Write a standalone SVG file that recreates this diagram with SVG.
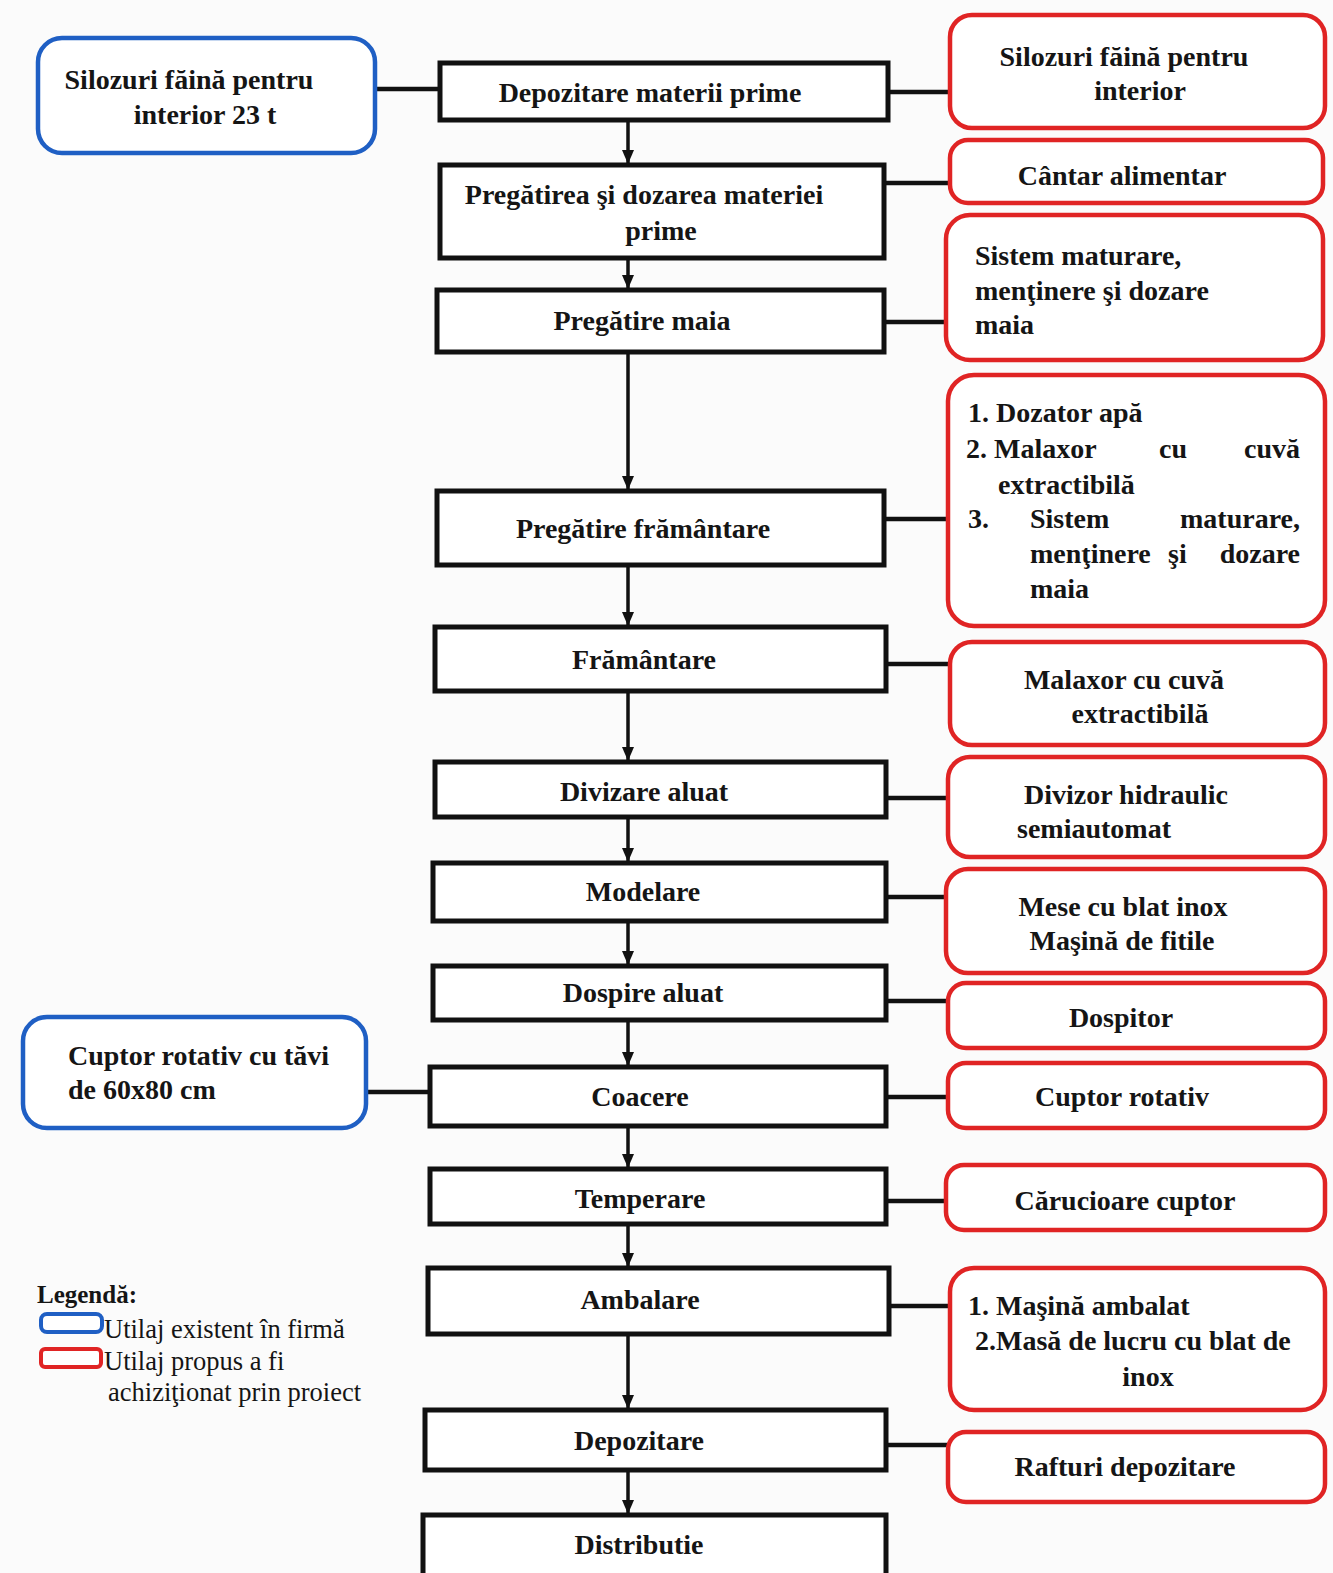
<svg xmlns="http://www.w3.org/2000/svg" width="1333" height="1573" viewBox="0 0 1333 1573">
<defs>
<marker id="ah" viewBox="0 0 14 12" refX="13" refY="6" markerWidth="14" markerHeight="12" orient="auto" markerUnits="userSpaceOnUse">
<path d="M0,0 L14,6 L0,12 Z" fill="#111"/>
</marker>
<style>
.step{fill:#fff;stroke:#111;stroke-width:5}
.red{fill:#fff;stroke:#e02424;stroke-width:4.5}
.blue{fill:#fff;stroke:#1f5fc4;stroke-width:4.5}
.t{font-family:"Liberation Serif","Times New Roman",serif;font-weight:bold;font-size:28px;fill:#151515}
.c{text-anchor:middle}
.e{text-anchor:end}
.lg{font-family:"Liberation Serif","Times New Roman",serif;font-size:26.5px;fill:#151515}
.link{stroke:#111;stroke-width:4.5;fill:none}
.arr{stroke:#111;stroke-width:3.5;fill:none;marker-end:url(#ah)}
</style>
</defs>
<rect width="1333" height="1573" fill="#fbfbfb"/>

<g id="connectors">
<line class="arr" x1="628" y1="120" x2="628" y2="163"/>
<line class="arr" x1="628" y1="258" x2="628" y2="288"/>
<line class="arr" x1="628" y1="352" x2="628" y2="489"/>
<line class="arr" x1="628" y1="565" x2="628" y2="625"/>
<line class="arr" x1="628" y1="691" x2="628" y2="760"/>
<line class="arr" x1="628" y1="817" x2="628" y2="861"/>
<line class="arr" x1="628" y1="921" x2="628" y2="964"/>
<line class="arr" x1="628" y1="1020" x2="628" y2="1065"/>
<line class="arr" x1="628" y1="1126" x2="628" y2="1167"/>
<line class="arr" x1="628" y1="1224" x2="628" y2="1266"/>
<line class="arr" x1="628" y1="1334" x2="628" y2="1408"/>
<line class="arr" x1="628" y1="1470" x2="628" y2="1513"/>
<line class="link" x1="375" y1="89" x2="440" y2="89"/>
<line class="link" x1="366" y1="1092" x2="430" y2="1092"/>
<line class="link" x1="888" y1="92" x2="950" y2="92"/>
<line class="link" x1="884" y1="183" x2="950" y2="183"/>
<line class="link" x1="884" y1="322" x2="946" y2="322"/>
<line class="link" x1="884" y1="519" x2="948" y2="519"/>
<line class="link" x1="886" y1="664" x2="950" y2="664"/>
<line class="link" x1="886" y1="798" x2="948" y2="798"/>
<line class="link" x1="886" y1="897" x2="946" y2="897"/>
<line class="link" x1="886" y1="1001" x2="948" y2="1001"/>
<line class="link" x1="886" y1="1097" x2="948" y2="1097"/>
<line class="link" x1="886" y1="1201" x2="946" y2="1201"/>
<line class="link" x1="889" y1="1306" x2="950" y2="1306"/>
<line class="link" x1="886" y1="1445" x2="948" y2="1445"/>
</g>

<g id="step1"><rect class="step" x="440" y="63" width="448" height="57"/><text class="t c" x="650" y="102">Depozitare materii prime</text></g>
<g id="step2"><rect class="step" x="440" y="165" width="444" height="93"/><text class="t c" x="644" y="204">Pregătirea şi dozarea materiei</text><text class="t c" x="661" y="240">prime</text></g>
<g id="step3"><rect class="step" x="437" y="290" width="447" height="62"/><text class="t c" x="642" y="330">Pregătire maia</text></g>
<g id="step4"><rect class="step" x="437" y="491" width="447" height="74"/><text class="t c" x="643" y="538">Pregătire frământare</text></g>
<g id="step5"><rect class="step" x="435" y="627" width="451" height="64"/><text class="t c" x="644" y="669">Frământare</text></g>
<g id="step6"><rect class="step" x="435" y="762" width="451" height="55"/><text class="t c" x="644" y="801">Divizare aluat</text></g>
<g id="step7"><rect class="step" x="433" y="863" width="453" height="58"/><text class="t c" x="643" y="901">Modelare</text></g>
<g id="step8"><rect class="step" x="433" y="966" width="453" height="54"/><text class="t c" x="643" y="1002">Dospire aluat</text></g>
<g id="step9"><rect class="step" x="430" y="1067" width="456" height="59"/><text class="t c" x="640" y="1106">Coacere</text></g>
<g id="step10"><rect class="step" x="430" y="1169" width="456" height="55"/><text class="t c" x="640" y="1208">Temperare</text></g>
<g id="step11"><rect class="step" x="428" y="1268" width="461" height="66"/><text class="t c" x="640" y="1309">Ambalare</text></g>
<g id="step12"><rect class="step" x="425" y="1410" width="461" height="60"/><text class="t c" x="639" y="1450">Depozitare</text></g>
<g id="step13"><rect class="step" x="423" y="1515" width="463" height="70"/><text class="t c" x="639" y="1554">Distributie</text></g>

<g id="eq1"><rect class="red" x="950" y="15" width="375" height="113" rx="22"/><text class="t c" x="1124" y="66">Silozuri făină pentru</text><text class="t c" x="1140" y="100">interior</text></g>
<g id="eq2"><rect class="red" x="950" y="140" width="373" height="63" rx="18"/><text class="t c" x="1122" y="185">Cântar alimentar</text></g>
<g id="eq3"><rect class="red" x="946" y="215" width="377" height="145" rx="24"/><text class="t" x="975" y="265">Sistem maturare,</text><text class="t" x="975" y="300">menţinere şi dozare</text><text class="t" x="975" y="334">maia</text></g>
<g id="eq4"><rect class="red" x="948" y="375" width="377" height="251" rx="26"/>
<text class="t" x="968" y="422">1. Dozator apă</text>
<text class="t" x="966" y="458">2. Malaxor</text><text class="t" x="1159" y="458">cu</text><text class="t e" x="1300" y="458">cuvă</text>
<text class="t" x="998" y="494">extractibilă</text>
<text class="t" x="968" y="528">3.</text><text class="t" x="1030" y="528">Sistem</text><text class="t e" x="1300" y="528">maturare,</text>
<text class="t" x="1030" y="563">menţinere</text><text class="t" x="1168" y="563">şi</text><text class="t e" x="1300" y="563">dozare</text>
<text class="t" x="1030" y="598">maia</text></g>
<g id="eq5"><rect class="red" x="950" y="642" width="375" height="103" rx="22"/><text class="t c" x="1124" y="689">Malaxor cu cuvă</text><text class="t c" x="1140" y="723">extractibilă</text></g>
<g id="eq6"><rect class="red" x="948" y="757" width="377" height="100" rx="22"/><text class="t c" x="1126" y="804">Divizor hidraulic</text><text class="t" x="1017" y="838">semiautomat</text></g>
<g id="eq7"><rect class="red" x="946" y="869" width="379" height="104" rx="22"/><text class="t c" x="1123" y="916">Mese cu blat inox</text><text class="t c" x="1122" y="950">Maşină de fitile</text></g>
<g id="eq8"><rect class="red" x="948" y="983" width="377" height="65" rx="18"/><text class="t c" x="1121" y="1027">Dospitor</text></g>
<g id="eq9"><rect class="red" x="948" y="1063" width="377" height="65" rx="18"/><text class="t c" x="1122" y="1106">Cuptor rotativ</text></g>
<g id="eq10"><rect class="red" x="946" y="1165" width="379" height="65" rx="18"/><text class="t c" x="1125" y="1210">Cărucioare cuptor</text></g>
<g id="eq11"><rect class="red" x="950" y="1268" width="375" height="142" rx="24"/><text class="t" x="968" y="1315">1. Maşină ambalat</text><text class="t" x="975" y="1350">2.Masă de lucru cu blat de</text><text class="t c" x="1148" y="1386">inox</text></g>
<g id="eq12"><rect class="red" x="948" y="1432" width="377" height="70" rx="18"/><text class="t c" x="1125" y="1476">Rafturi depozitare</text></g>

<g id="ex1"><rect class="blue" x="38" y="38" width="337" height="115" rx="24"/><text class="t c" x="189" y="89">Silozuri făină pentru</text><text class="t c" x="205" y="124">interior 23 t</text></g>
<g id="ex2"><rect class="blue" x="23" y="1017" width="343" height="111" rx="24"/><text class="t" x="68" y="1065">Cuptor rotativ cu tăvi</text><text class="t" x="68" y="1099">de 60x80 cm</text></g>

<g id="legend">
<text class="t" x="37" y="1303" style="font-size:25px">Legendă:</text>
<rect x="41" y="1314" width="61" height="18" rx="6" fill="#fff" stroke="#1f5fc4" stroke-width="4"/>
<text class="lg" x="104" y="1338">Utilaj existent în firmă</text>
<rect x="41" y="1349" width="60" height="18" rx="4" fill="#fff" stroke="#e02424" stroke-width="4"/>
<text class="lg" x="104" y="1370">Utilaj propus a fi</text>
<text class="lg" x="108" y="1401">achiziţionat prin proiect</text>
</g>
</svg>
